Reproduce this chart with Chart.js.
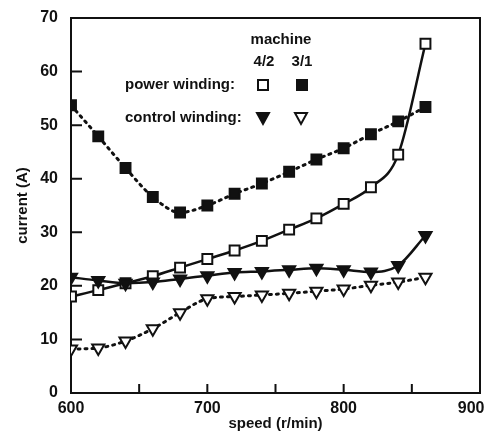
<!DOCTYPE html>
<html>
<head>
<meta charset="utf-8">
<script src="https://cdn.jsdelivr.net/npm/chart.js@4"></script>
<style>
  html, body { margin: 0; background: #fff; }
  #wrap { width: 486px; height: 436px; }
</style>
</head>
<body>
<div id="wrap"><canvas id="grafico" width="486" height="436"></canvas></div>
<script>
// speed (r/min) and current (A)
const speeds = [600, 620, 640, 660, 680, 700, 720, 740, 760, 780, 800, 820, 840, 860];
const powerA   = [18.0, 19.2, 20.5, 21.8, 23.4, 25.0, 26.6, 28.4, 30.5, 32.6, 35.3, 38.4, 44.5, 65.2]; // 4/2
const powerB   = [53.7, 47.9, 42.0, 36.6, 33.7, 35.0, 37.2, 39.1, 41.3, 43.6, 45.7, 48.3, 50.7, 53.4]; // 3/1
const controlA = [21.6, 21.0, 20.5, 20.7, 21.3, 21.9, 22.5, 22.7, 23.0, 23.3, 23.0, 22.6, 23.8, 29.4]; // 4/2
const controlB = [8.2, 8.4, 9.7, 12.0, 15.0, 17.6, 18.0, 18.3, 18.6, 19.0, 19.4, 20.1, 20.7, 21.6]; // 3/1

const xTicks = [600, 650, 700, 750, 800, 850, 900];
const yTicks = [0, 10, 20, 30, 40, 50, 60, 70];

const INK = '#111';
const FONT = "'Liberation Sans', Arial, sans-serif";

const pares = arr => arr.map((v, i) => ({ x: speeds[i], y: v }));

// 👉 marco y marcas hacia adentro
const marco = {
  id: 'marco',
  beforeDatasetsDraw(chart) {
    const { ctx, chartArea: a, scales: { x, y } } = chart;
    ctx.save();
    ctx.strokeStyle = INK;
    ctx.lineWidth = 2;
    ctx.strokeRect(a.left, a.top, a.right - a.left, a.bottom - a.top);
    ctx.beginPath();
    xTicks.slice(1, -1).forEach(v => {
      const px = x.getPixelForValue(v);
      ctx.moveTo(px, a.bottom);
      ctx.lineTo(px, a.bottom - 9);
    });
    yTicks.slice(1, -1).forEach(v => {
      const py = y.getPixelForValue(v);
      ctx.moveTo(a.left, py);
      ctx.lineTo(a.left + 11, py);
    });
    ctx.stroke();
    ctx.restore();
  }
};

// 👉 leyenda dentro del gráfico
function marca(ctx, tipo, lleno, cx, cy) {
  ctx.beginPath();
  if (tipo === 'rect') {
    ctx.rect(cx - 5, cy - 5, 10, 10);
  } else {
    ctx.moveTo(cx - 6, cy - 4);
    ctx.lineTo(cx + 6, cy - 4);
    ctx.lineTo(cx, cy + 7);
    ctx.closePath();
  }
  ctx.fillStyle = lleno ? INK : '#fff';
  ctx.fill();
  ctx.lineWidth = 2;
  ctx.strokeStyle = INK;
  ctx.stroke();
}

const leyenda = {
  id: 'leyenda',
  afterDraw(chart) {
    const { ctx, chartArea: a } = chart;
    const L = a.left, T = a.top;
    ctx.save();
    ctx.fillStyle = INK;
    ctx.font = 'bold 15px ' + FONT;
    ctx.textBaseline = 'middle';
    ctx.textAlign = 'center';
    ctx.fillText('machine', L + 210, T + 22);
    ctx.fillText('4/2', L + 193, T + 44);
    ctx.fillText('3/1', L + 231, T + 44);
    ctx.textAlign = 'left';
    ctx.fillText('power winding:', L + 54, T + 67);
    ctx.fillText('control winding:', L + 54, T + 100);
    marca(ctx, 'rect', false, L + 192, T + 67);
    marca(ctx, 'rect', true, L + 231, T + 67);
    marca(ctx, 'tri', true, L + 192, T + 99);
    marca(ctx, 'tri', false, L + 230, T + 99);
    ctx.restore();
  }
};

function serie(datos, estilo, lleno, punteada) {
  return {
    data: pares(datos),
    borderColor: INK,
    borderWidth: punteada ? 3 : 2.5,
    borderDash: punteada ? [2, 5] : [],
    borderCapStyle: 'round',
    cubicInterpolationMode: 'monotone',
    pointStyle: estilo,
    pointRotation: estilo === 'triangle' ? 180 : 0,
    pointRadius: 7,
    pointBorderWidth: 2,
    pointBorderColor: INK,
    pointBackgroundColor: lleno ? INK : '#fff',
    fill: false
  };
}

new Chart(document.getElementById('grafico'), {
  type: 'line',
  data: {
    datasets: [
      serie(powerB, 'rect', true, true),
      serie(controlB, 'triangle', false, true),
      serie(controlA, 'triangle', true, false),
      serie(powerA, 'rect', false, false)
    ]
  },
  options: {
    responsive: false,
    animation: false,
    layout: { autoPadding: false, padding: { top: 18, right: 6, left: 0, bottom: 0 } },
    plugins: { legend: { display: false }, tooltip: { enabled: false } },
    scales: {
      x: {
        type: 'linear',
        min: 600,
        max: 900,
        afterBuildTicks: s => { s.ticks = xTicks.map(v => ({ value: v })); },
        afterFit: s => { s.height = 43; s.paddingLeft = 0; s.paddingRight = 0; },
        grid: { display: false, drawTicks: false },
        border: { display: false },
        ticks: {
          color: INK,
          padding: 6,
          autoSkip: false,
          maxRotation: 0,
          font: { family: FONT, size: 16, weight: 'bold' },
          // el último rótulo se corre hacia adentro, como en la figura
          callback: v => (v % 100 !== 0 ? '' : v === 900 ? '900\u2007\u2007' : String(v))
        },
        title: {
          display: true,
          text: 'speed (r/min)',
          color: INK,
          padding: { top: 0, bottom: 3 },
          font: { family: FONT, size: 15, weight: 'bold' }
        }
      },
      y: {
        min: 0,
        max: 70,
        afterBuildTicks: s => { s.ticks = yTicks.map(v => ({ value: v })); },
        afterFit: s => { s.width = 71; s.paddingTop = 0; s.paddingBottom = 0; },
        grid: { display: false, drawTicks: false },
        border: { display: false },
        ticks: {
          color: INK,
          padding: 13,
          font: { family: FONT, size: 16, weight: 'bold' }
        },
        title: {
          display: true,
          text: 'current (A)',
          color: INK,
          padding: { top: 14, bottom: 0 },
          font: { family: FONT, size: 15, weight: 'bold' }
        }
      }
    }
  },
  plugins: [marco, leyenda]
});
</script>
</body>
</html>
